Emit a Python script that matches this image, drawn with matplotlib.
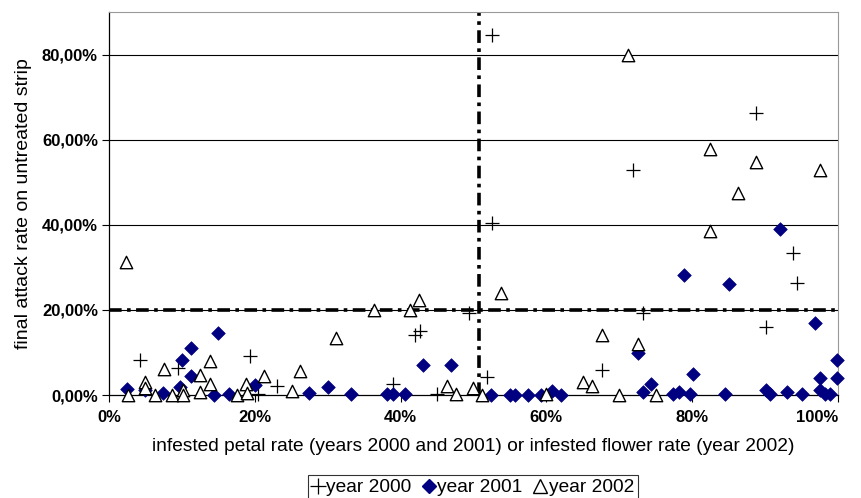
import matplotlib
matplotlib.use("Agg")
import matplotlib.pyplot as plt
from matplotlib.lines import Line2D

plt.rcParams["font.family"] = ["Liberation Sans", "DejaVu Sans"]

# ----------------------
# data (percent values)
# ----------------------
x_2000 = [4.3, 9.4, 19.4, 20.4, 23.1, 38.9, 42.0, 42.6, 45.0, 49.4,
          51.8, 52.5, 52.5, 67.6, 71.9, 73.2, 88.8, 90.1, 93.8, 94.4]
y_2000 = [8.2, 6.3, 9.1, 0.3, 2.1, 2.7, 14.2, 15.0, 0.2, 19.2,
          4.2, 84.7, 40.4, 5.9, 52.8, 19.2, 66.2, 16.0, 33.4, 26.4]

x_2001 = [2.5, 4.9, 7.4, 9.8, 10.0, 11.2, 11.2, 14.4, 15.0, 16.4,
          20.0, 27.5, 30.0, 33.2, 38.1, 38.9, 40.6, 43.1, 46.9, 52.4,
          55.0, 55.7, 57.5, 59.3, 60.7, 62.0, 72.5, 73.2, 74.4, 77.4,
          78.2, 78.9, 79.7, 80.1, 84.5, 85.0, 90.1, 90.7, 92.0, 93.0,
          95.0, 96.9, 97.5, 97.5, 98.2, 98.9, 99.9, 99.9]
y_2001 = [1.3, 1.2, 0.5, 1.8, 8.2, 11.0, 4.5, 0.1, 14.6, 0.2,
          2.4, 0.5, 1.8, 0.2, 0.2, 0.2, 0.2, 7.0, 7.0, 0.1,
          0.1, 0.1, 0.1, 0.1, 0.9, 0.1, 9.9, 0.8, 2.6, 0.2,
          0.8, 28.2, 0.2, 5.0, 0.2, 26.0, 1.2, 0.2, 38.9, 0.6,
          0.2, 17.0, 4.1, 1.2, 0.2, 0.2, 8.2, 4.1]

x_2002 = [2.4, 2.6, 4.9, 4.9, 6.3, 7.6, 8.6, 10.1, 10.2, 12.5,
          12.5, 13.8, 13.8, 17.6, 18.8, 18.9, 21.3, 25.1, 26.2, 31.2,
          36.3, 41.3, 42.5, 46.3, 47.6, 50.0, 51.2, 53.8, 60.0, 65.0,
          66.3, 67.6, 70.0, 71.2, 72.5, 75.0, 82.5, 82.5, 86.3, 88.8,
          97.5]
y_2002 = [31.2, 0.1, 3.1, 1.6, 0.1, 6.0, 0.1, 1.2, 0.1, 4.6,
          0.7, 8.1, 2.7, 0.1, 2.5, 0.4, 4.5, 0.9, 5.6, 13.5,
          20.0, 20.0, 22.4, 2.1, 0.2, 1.7, 0.1, 24.0, 0.2, 3.1,
          2.1, 14.1, 0.1, 79.8, 12.1, 0.1, 57.9, 38.5, 47.5, 54.7,
          52.8]

x_threshold = 50.7
y_threshold = 20.0

x_ticks = [0, 20, 40, 60, 80, 100]
x_tick_labels = ["0%", "20%", "40%", "60%", "80%", "100%"]
y_ticks = [0, 20, 40, 60, 80]
y_tick_labels = ["0,00%", "20,00%", "40,00%", "60,00%", "80,00%"]

# ----------------------
# figure
# ----------------------
fig = plt.figure(figsize=(8.62, 4.98), dpi=100)
ax = fig.add_axes([109 / 862, 1 - 395 / 498, 729 / 862, 383 / 498])

ax.set_xlim(0, 100)
ax.set_ylim(0, 90)

for yv in y_ticks[1:]:
    ax.axhline(yv, color="black", linewidth=0.8, zorder=1)

dashdot = (0, (3.5, 1.5, 1, 1.5))
ax.axvline(x_threshold, color="black", linewidth=2.6, linestyle=dashdot, zorder=2)
ax.axhline(y_threshold, color="black", linewidth=2.6, linestyle=dashdot, zorder=2)

ax.scatter(x_2000, y_2000, marker="+", s=90, color="black", linewidths=0.9,
           zorder=3, clip_on=False)
ax.scatter(x_2001, y_2001, marker="D", s=48, color="#000080", edgecolors="#000080",
           linewidths=0.5, zorder=4, clip_on=False)
ax.scatter(x_2002, y_2002, marker="^", s=80, facecolors="white", edgecolors="black",
           linewidths=1.0, zorder=5, clip_on=False)

ax.set_xticks(x_ticks)
ax.set_xticklabels(x_tick_labels, fontsize=12, fontweight="bold")
ax.get_xticklabels()[-1].set_horizontalalignment("right")
ax.set_yticks(y_ticks)
ax.set_yticklabels(y_tick_labels, fontsize=12, fontweight="bold")
ax.tick_params(axis="both", direction="out", length=5, width=0.8, color="black", pad=3)
ax.tick_params(axis="x", pad=6)

for side in ["top", "right"]:
    ax.spines[side].set_color("#999999")
for side in ["left", "bottom"]:
    ax.spines[side].set_color("black")
    ax.spines[side].set_linewidth(0.9)

ax.set_xlabel("infested petal rate (years 2000 and 2001) or infested flower rate (year 2002)",
              fontsize=13.8, labelpad=9)
ax.set_ylabel("final attack rate on untreated strip", fontsize=14, labelpad=7)

handles = [
    Line2D([], [], marker="+", linestyle="none", color="black", markersize=12, markeredgewidth=0.9),
    Line2D([], [], marker="D", linestyle="none", color="#000080", markersize=7),
    Line2D([], [], marker="^", linestyle="none", markerfacecolor="white",
           markeredgecolor="black", markersize=10),
]
leg = fig.legend(handles, ["year 2000", "year 2001", "year 2002"], ncol=3,
                 loc="upper center", bbox_to_anchor=(473 / 862, 1 - 475 / 498),
                 fontsize=13.8, frameon=True, fancybox=False, edgecolor="black",
                 handlelength=0.6, handletextpad=0.15, columnspacing=0.6,
                 borderpad=0.2, borderaxespad=0)
leg.get_frame().set_linewidth(0.8)

fig.savefig("out.png", dpi=100)
